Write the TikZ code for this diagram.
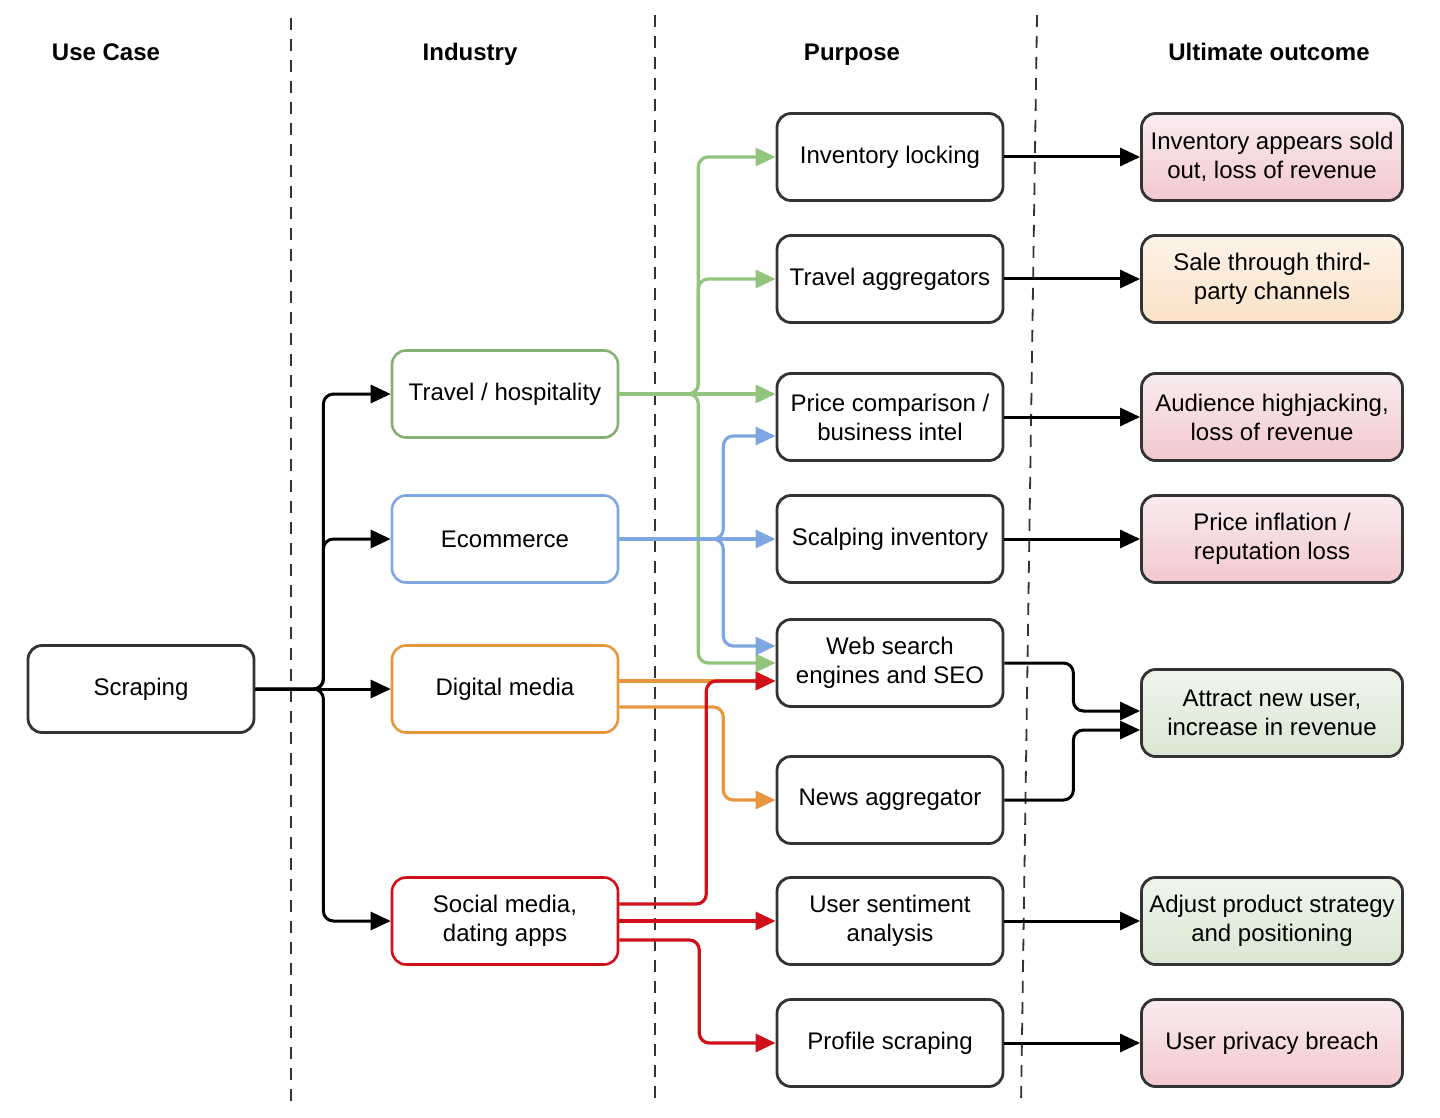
\documentclass[tikz,border=0pt]{standalone}
\usepackage{fontspec}
\setmainfont{Liberation Sans}
\usetikzlibrary{arrows.meta}

\definecolor{boxgray}{HTML}{333333}
\definecolor{linegreen}{HTML}{93C47D}
\definecolor{lineblue}{HTML}{7EA6E0}
\definecolor{lineorange}{HTML}{E8963C}
\definecolor{linered}{HTML}{D0101A}
\definecolor{pinktop}{HTML}{F9ECEF}
\definecolor{pinkbot}{HTML}{F2C8CF}
\definecolor{peachtop}{HTML}{FDF3E8}
\definecolor{peachbot}{HTML}{FBE2C8}
\definecolor{mintop}{HTML}{F0F5EC}
\definecolor{minbot}{HTML}{D8E7D1}

\begin{document}
\begin{tikzpicture}[
    x=0.5pt, y=-0.5pt,
    head/.style={font=\bfseries\fontsize{12}{14.5}\selectfont, text height=0.72em, text depth=0.22em},
    box/.style={rectangle, draw=boxgray, line width=1.4pt, rounded corners=7pt, fill=white,
        minimum width=113pt, minimum height=43.5pt, inner sep=1pt, align=center,
        font=\fontsize{12}{14.5}\selectfont},
    industry/.style={box, line width=1.3pt},
    outcome/.style={box, minimum width=130.5pt},
    divider/.style={draw=boxgray, line width=0.9pt, dash pattern=on 6pt off 4.5pt},
    link/.style={line width=1.5pt, rounded corners=5pt, -{Triangle[length=10pt, width=9pt]}},
    blackarrow/.style={link, draw=black},
    greenarrow/.style={link, draw=linegreen, line width=1.6pt},
    bluearrow/.style={link, draw=lineblue, line width=1.6pt},
    orangearrow/.style={link, draw=lineorange, line width=1.6pt},
    redarrow/.style={link, draw=linered, line width=1.6pt}
]
\useasboundingbox (0,0) rectangle (1440,1118);

% Заголовки столбцов
\node[head] (hcase) at (106,56) {Use Case};
\node[head] (hind) at (470,56) {Industry};
\node[head] (hpurp) at (852,56) {Purpose};
\node[head] (hout) at (1269,56) {Ultimate outcome};

% Разделители
\coordinate (d1t) at (291,18);
\coordinate (d1b) at (291,1105);
\coordinate (d2t) at (655,15);
\coordinate (d2b) at (655,1105);
\coordinate (d3t) at (1037,15);
\coordinate (d3b) at (1021,1105);
\draw[divider] (d1t) -- (d1b);
\draw[divider] (d2t) -- (d2b);
\draw[divider] (d3t) -- (d3b);

% Use Case
\node[box] (scraping) at (141,689) {Scraping};

% Industry
\node[industry, draw=linegreen!90!black] (travel) at (505,394) {Travel / hospitality};
\node[industry, draw=lineblue] (ecom) at (505,539) {Ecommerce};
\node[industry, draw=lineorange] (dmedia) at (505,689) {Digital media};
\node[industry, draw=linered] (social) at (505,921) {Social media,\\dating apps};

% Purpose
\node[box] (invlock) at (890,157) {Inventory locking};
\node[box] (travagg) at (890,279) {Travel aggregators};
\node[box] (pricecmp) at (890,417) {Price comparison /\\business intel};
\node[box] (scalp) at (890,539) {Scalping inventory};
\node[box] (websearch) at (890,663) {Web search\\engines and SEO};
\node[box] (news) at (890,800) {News aggregator};
\node[box] (sentiment) at (890,921) {User sentiment\\analysis};
\node[box] (profile) at (890,1043) {Profile scraping};

% Ultimate outcome
\node[outcome, top color=pinktop, bottom color=pinkbot] (soldout) at (1272,157) {Inventory appears sold\\out, loss of revenue};
\node[outcome, top color=peachtop, bottom color=peachbot] (thirdparty) at (1272,279) {Sale through third-\\party channels};
\node[outcome, top color=pinktop, bottom color=pinkbot] (hijack) at (1272,417) {Audience highjacking,\\loss of revenue};
\node[outcome, top color=pinktop, bottom color=pinkbot] (inflation) at (1272,539) {Price inflation /\\reputation loss};
\node[outcome, top color=mintop, bottom color=minbot] (attract) at (1272,713) {Attract new user,\\increase in revenue};
\node[outcome, top color=mintop, bottom color=minbot] (strategy) at (1272,921) {Adjust product strategy\\and positioning};
\node[outcome, top color=pinktop, bottom color=pinkbot] (privacy) at (1272,1043) {User privacy breach};

% Scraping -> Industry
\draw[blackarrow] (scraping.east) -- ++(68,0) |- (travel.west);
\draw[blackarrow] (scraping.east) -- ++(68,0) |- (ecom.west);
\draw[blackarrow] (scraping.east) -- (dmedia.west);
\draw[blackarrow] (scraping.east) -- ++(68,0) |- (social.west);

% Travel / hospitality
\draw[greenarrow] (travel.east) -- ++(79,0) |- (invlock.west);
\draw[greenarrow] (travel.east) -- ++(79,0) |- (travagg.west);
\draw[greenarrow] (travel.east) -- (travel.east -| pricecmp.west);
\draw[greenarrow] (travel.east) -- ++(79,0) |- (websearch.west);

% Ecommerce
\draw[bluearrow] (ecom.east) -- ++(104,0) |- ([yshift=-9.5pt]pricecmp.west);
\draw[bluearrow] (ecom.east) -- (scalp.west);
\draw[bluearrow] (ecom.east) -- ++(104,0) |- ([yshift=8.5pt]websearch.west);

% Digital media
\draw[orangearrow] ([yshift=4pt]dmedia.east) -- ([yshift=-9pt]websearch.west);
\draw[orangearrow] ([yshift=-9pt]dmedia.east) -- ++(104,0) |- (news.west);

% Social media
\draw[redarrow] ([yshift=8.5pt]social.east) -- ++(87,0) |- ([yshift=-9pt]websearch.west);
\draw[redarrow] (social.east) -- (sentiment.west);
\draw[redarrow] ([yshift=-9.5pt]social.east) -- ++(80,0) |- (profile.west);

% Purpose -> Ultimate outcome
\draw[blackarrow] (invlock.east) -- (soldout.west);
\draw[blackarrow] (travagg.east) -- (thirdparty.west);
\draw[blackarrow] (pricecmp.east) -- (hijack.west);
\draw[blackarrow] (scalp.east) -- (inflation.west);
\draw[blackarrow] (websearch.east) -- ++(69,0) |- ([yshift=1pt]attract.west);
\draw[blackarrow] (news.east) -- ++(69,0) |- ([yshift=-8.5pt]attract.west);
\draw[blackarrow] (sentiment.east) -- (strategy.west);
\draw[blackarrow] (profile.east) -- (privacy.west);
\end{tikzpicture}
\end{document}
